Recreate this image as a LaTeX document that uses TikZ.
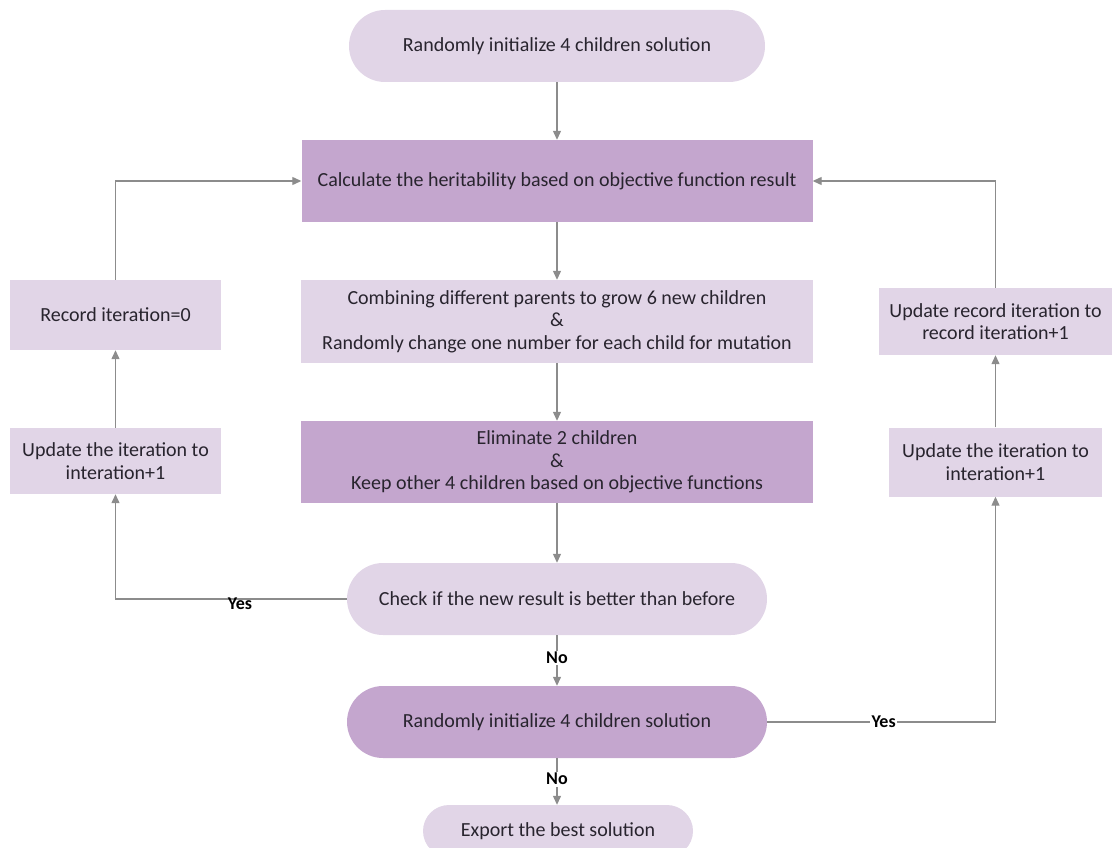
\documentclass[tikz,border=0pt]{standalone}
\usepackage{fontspec}
\setmainfont{Carlito}
\usetikzlibrary{arrows.meta}
\definecolor{lightlilac}{RGB}{225,213,231}
\definecolor{darklilac}{RGB}{196,166,206}
\definecolor{linegray}{RGB}{140,140,140}
\definecolor{textdark}{RGB}{40,36,46}
\begin{document}
\begin{tikzpicture}[x=1pt,y=-1pt,
  base/.style={draw=none, text=textdark, align=center, inner sep=0pt,
    font=\fontsize{20}{22.5}\selectfont},
  lightbox/.style={base, fill=lightlilac},
  darkbox/.style={base, fill=darklilac},
  pill/.style={rounded corners=#1},
  conn/.style={draw=linegray, line width=1.2pt},
  arr/.style={conn, -{Triangle[width=8pt,length=9pt]}},
  lbl/.style={font=\bfseries\fontsize{18}{20}\selectfont, text=black, fill=white, inner sep=1.5pt}
]
\useasboundingbox (0,0) rectangle (1114,848);

% main column
\node[lightbox, pill=36pt, minimum width=416pt, minimum height=72pt] (init) at (557,46)
  {Randomly initialize 4 children solution};
\node[darkbox, minimum width=511pt, minimum height=82pt] (calc) at (557,181)
  {Calculate the heritability based on objective function result};
\node[lightbox, minimum width=512pt, minimum height=83pt] (comb) at (557,321.5)
  {Combining different parents to grow 6 new children\\ \&\\ Randomly change one number for each child for mutation};
\node[darkbox, minimum width=512pt, minimum height=82pt] (elim) at (557,462)
  {Eliminate 2 children\\ \&\\ Keep other 4 children based on objective functions};
\node[lightbox, pill=36pt, minimum width=420pt, minimum height=72pt] (check) at (557,599)
  {Check if the new result is better than before};
\node[darkbox, pill=36pt, minimum width=420pt, minimum height=72pt] (reinit) at (557,722)
  {Randomly initialize 4 children solution};
\node[lightbox, pill=26pt, minimum width=270pt, minimum height=52pt] (export) at (558,831)
  {Export the best solution};

% left loop
\node[lightbox, minimum width=211pt, minimum height=70pt] (rec0) at (115.5,315)
  {Record iteration=0};
\node[lightbox, minimum width=211pt, minimum height=66pt] (updL) at (115.5,461)
  {Update the iteration to\\ interation+1};

% right loop
\node[lightbox, minimum width=213pt, minimum height=69pt] (updR) at (995.5,462)
  {Update the iteration to\\ interation+1};
\node[lightbox, minimum width=233pt, minimum height=67pt] (recR) at (995.5,321.5)
  {Update record iteration to\\ record iteration+1};

% connectors
\draw[arr] (init) -- (calc);
\draw[arr] (calc) -- (comb);
\draw[arr] (comb) -- (elim);
\draw[arr] (elim) -- (check);
\draw[arr] (check) -- node[lbl, pos=0.45] {No} (reinit);
\draw[arr] (reinit.south) -- node[lbl, pos=0.45] {No} (reinit.south |- export.north);

\draw[arr] (check.west) -| (updL.south);
\node[lbl, fill=none, anchor=north] (yesL) at (240,596) {Yes};
\draw[arr] (updL) -- (rec0);
\draw[arr] (rec0.north) |- (calc.west);

\draw[arr] (reinit.east) -| node[lbl, pos=0.255] {Yes} (updR.south);
\draw[arr] (updR) -- (recR);
\draw[arr] (recR.north) |- (calc.east);
\end{tikzpicture}
\end{document}
